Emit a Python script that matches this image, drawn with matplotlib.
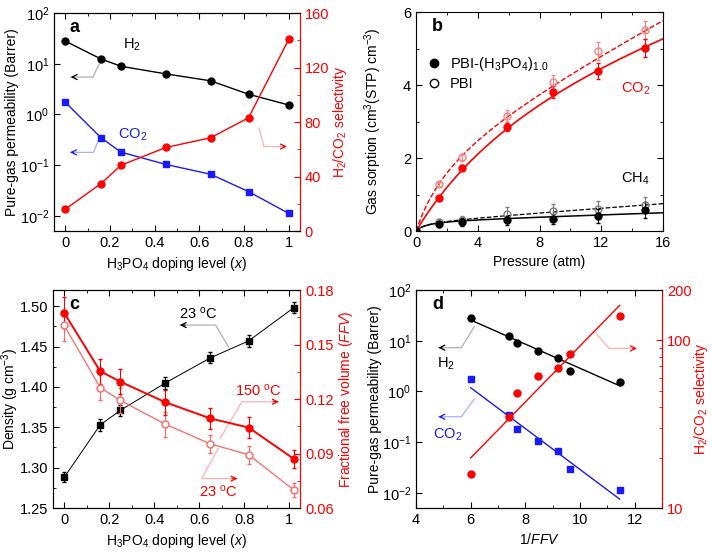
import numpy as np
import matplotlib
matplotlib.use('Agg')
from matplotlib import pyplot as plt
from matplotlib.lines import Line2D
from matplotlib.ticker import (MultipleLocator, NullLocator, NullFormatter,
                               FixedLocator, FormatStrFormatter)

plt.rcParams['font.family'] = ['Liberation Sans', 'DejaVu Sans']
plt.rcParams['mathtext.fontset'] = 'custom'
plt.rcParams['mathtext.rm'] = 'Liberation Sans'
plt.rcParams['mathtext.it'] = 'Liberation Sans:italic'
plt.rcParams['mathtext.bf'] = 'Liberation Sans:bold'
plt.rcParams['font.size'] = 10
plt.rcParams['axes.labelsize'] = 10
plt.rcParams['xtick.labelsize'] = 10.5
plt.rcParams['ytick.labelsize'] = 10.5
plt.rcParams['xtick.direction'] = 'in'
plt.rcParams['ytick.direction'] = 'in'
plt.rcParams['xtick.major.size'] = 4
plt.rcParams['ytick.major.size'] = 4
plt.rcParams['xtick.minor.size'] = 2
plt.rcParams['ytick.minor.size'] = 2

# ---- data: panel a / d (permeability vs doping level and vs 1/FFV)
doping = [0, 0.16, 0.25, 0.45, 0.65, 0.82, 1.0]
inv_ffv = [6.0, 7.4, 7.7, 8.45, 9.2, 9.65, 11.45]
h2_perm = [28, 12.4, 8.9, 6.3, 4.6, 2.5, 1.53]
co2_perm = [1.75, 0.346, 0.18, 0.103, 0.066, 0.030, 0.0111]
selectivity = [15.9, 34.8, 48.3, 61.3, 68.4, 83.1, 140.7]
# fitted lines in panel d (end points)
fit_x = [6.0, 11.45]
h2_fit = [25.6, 1.29]
co2_fit = [1.18, 0.0075]
sel_fit = [19.9, 162]

# ---- data: panel b (sorption isotherms)
pressure = [0, 1.5, 3.0, 5.9, 8.9, 11.8, 14.8]
co2_doped = [0, 0.91, 1.74, 2.85, 3.81, 4.39, 5.02]
co2_doped_err = [0, 0.05, 0.07, 0.12, 0.17, 0.22, 0.24]
co2_pbi = [0, 1.29, 2.02, 3.15, 4.08, 4.94, 5.52]
co2_pbi_err = [0, 0.06, 0.10, 0.16, 0.21, 0.25, 0.25]
ch4_doped = [0, 0.19, 0.25, 0.29, 0.34, 0.41, 0.58]
ch4_doped_err = [0, 0.07, 0.12, 0.13, 0.14, 0.18, 0.22]
ch4_pbi = [0, 0.24, 0.30, 0.47, 0.55, 0.61, 0.72]
ch4_pbi_err = [0, 0.08, 0.12, 0.18, 0.19, 0.22, 0.22]
# dual-mode sorption fit parameters:
# order: CO2 doped, CO2 PBI, CH4 doped, CH4 PBI
fit_kd = [0.099, 0.221, 0.014, 0.031]
fit_ch = [5.99, 2.583, 0.288, 0.265]
fit_b = [0.1, 0.4, 1.5, 1.5]

# ---- data: panel c (density and FFV)
doping_c = [0, 0.16, 0.25, 0.45, 0.65, 0.82, 1.02]
density = [1.288, 1.353, 1.371, 1.405, 1.436, 1.457, 1.498]
density_err = [0.006, 0.007, 0.007, 0.007, 0.007, 0.007, 0.007]
ffv_150 = [0.1674, 0.1353, 0.1295, 0.1182, 0.1093, 0.1043, 0.0871]
ffv_150_err = [0.0085, 0.007, 0.007, 0.007, 0.006, 0.006, 0.005]
ffv_23 = [0.1605, 0.1263, 0.1192, 0.1061, 0.0953, 0.0893, 0.0700]
ffv_23_err = [0.0085, 0.007, 0.007, 0.007, 0.005, 0.005, 0.004]

RED = '#ff0000'
BLUE = '#1a1aff'


def dual_mode(p, i):
    return fit_kd[i] * p + fit_ch[i] * fit_b[i] * p / (1 + fit_b[i] * p)


def bent_arrow(ax, xs, ys, line_color, head_color):
    ax.plot(xs, ys, color=line_color, lw=0.9, zorder=1)
    dx = (xs[-1] - xs[-2]) * 0.15
    ax.annotate('', xy=(xs[-1], ys[-1]), xytext=(xs[-1] - dx, ys[-1]),
                arrowprops=dict(arrowstyle='->', color=head_color, lw=0.9,
                                shrinkA=0, shrinkB=0, mutation_scale=9))


def red_twin(ax):
    tw = ax.twinx()
    tw.spines['right'].set_color(RED)
    tw.tick_params(axis='y', which='both', colors=RED, direction='in')
    tw.yaxis.label.set_color(RED)
    return tw


fig = plt.figure(figsize=(7.12, 5.54), dpi=100)

# ================= panel a
ax = fig.add_axes([0.0758, 0.583, 0.3455, 0.3935])
ax.plot(doping, h2_perm, '-o', color='black', lw=1, ms=5)
ax.plot(doping, co2_perm, '-s', color=BLUE, lw=1, ms=5)
ax.set_yscale('log')
ax.set_ylim(0.005, 100)
ax.set_xlim(-0.05, 1.05)
ax.yaxis.set_minor_locator(NullLocator())
ax.set_xticks([0, 0.2, 0.4, 0.6, 0.8, 1.0], ['0', '0.2', '0.4', '0.6', '0.8', '1'])
ax.xaxis.set_minor_locator(MultipleLocator(0.1))
ax.tick_params(top=True, which='both')
ax.set_xlabel('H$_3$PO$_4$ doping level ($\\it{x}$)')
ax.set_ylabel('Pure-gas permeability (Barrer)')
ax.yaxis.set_label_coords(-0.142, 0.5)
ax.text(0.065, 0.935, 'a', transform=ax.transAxes, fontsize=13, fontweight='bold', va='center')
ax.text(0.30, 23.7, 'H$_2$', ha='center', va='center', fontsize=10.5)
ax.text(0.30, 0.40, 'CO$_2$', color=BLUE, ha='center', va='center', fontsize=10.5)
bent_arrow(ax, [0.154, 0.124, 0.025], [10.3, 5.45, 5.45], '#b0b0b0', 'black')
bent_arrow(ax, [0.151, 0.127, 0.022], [0.326, 0.178, 0.178], '#a8b0ff', BLUE)
tw = red_twin(ax)
tw.plot(doping, selectivity, '-o', color=RED, lw=1, ms=5)
tw.set_ylim(0, 160)
tw.yaxis.set_major_locator(MultipleLocator(40))
tw.yaxis.set_minor_locator(MultipleLocator(20))
tw.set_ylabel('H$_2$/CO$_2$ selectivity')
tw.yaxis.set_label_coords(1.126, 0.5)
bent_arrow(tw, [0.867, 0.889, 0.991], [75.5, 62, 62], '#ffb0b0', RED)

# ================= panel b
ax = fig.add_axes([0.5843, 0.583, 0.347, 0.395])
pp = np.linspace(0, 16, 300)
ax.plot(pp, dual_mode(pp, 1), '--', color=RED, lw=1)
ax.plot(pp, dual_mode(pp, 0), '-', color=RED, lw=1.2)
ax.plot(pp, dual_mode(pp, 3), '--', color='black', lw=0.9)
ax.plot(pp, dual_mode(pp, 2), '-', color='black', lw=1.1)
ax.errorbar(pressure, co2_pbi, yerr=co2_pbi_err, fmt='o', mfc='none', mec='#ff8080',
            ecolor='#ff8080', ms=5, capsize=1.5, elinewidth=0.8)
ax.errorbar(pressure, co2_doped, yerr=co2_doped_err, fmt='o', color=RED,
            ms=5, capsize=1.5, elinewidth=0.8)
ax.errorbar(pressure, ch4_pbi, yerr=ch4_pbi_err, fmt='o', mfc='none', mec='#808080',
            ecolor='#808080', ms=5, capsize=1.5, elinewidth=0.8)
ax.errorbar(pressure, ch4_doped, yerr=ch4_doped_err, fmt='o', color='black',
            ms=5, capsize=1.5, elinewidth=0.8)
ax.set_xlim(0, 16)
ax.set_ylim(0, 6)
ax.xaxis.set_major_locator(MultipleLocator(4))
ax.xaxis.set_minor_locator(MultipleLocator(2))
ax.yaxis.set_major_locator(MultipleLocator(2))
ax.yaxis.set_minor_locator(MultipleLocator(1))
ax.tick_params(top=True, right=True, which='both')
ax.set_xlabel('Pressure (atm)')
ax.set_ylabel('Gas sorption (cm$^3$(STP) cm$^{-3}$)')
ax.yaxis.set_label_coords(-0.130, 0.5)
ax.text(0.065, 0.935, 'b', transform=ax.transAxes, fontsize=13, fontweight='bold', va='center')
ax.text(14.2, 3.9, 'CO$_2$', color=RED, ha='center', va='center', fontsize=10.5)
ax.text(14.2, 1.44, 'CH$_4$', ha='center', va='center', fontsize=10.5)
handles = [Line2D([], [], ls='none', marker='o', color='black', ms=6),
           Line2D([], [], ls='none', marker='o', mfc='white', mec='black', ms=6)]
ax.legend(handles, ['PBI-(H$_3$PO$_4$)$_{1.0}$', 'PBI'], loc='upper left',
          bbox_to_anchor=(0.0, 0.85), frameon=False, handlelength=1.0, fontsize=10.5,
          handletextpad=0.6, labelspacing=0.25, borderaxespad=0.3)

# ================= panel c
ax = fig.add_axes([0.0744, 0.083, 0.3475, 0.3935])
ax.errorbar(doping_c, density, yerr=density_err, fmt='-s', color='black', ms=5,
            lw=0.7, capsize=1.5, elinewidth=0.8)
ax.set_xlim(-0.05, 1.05)
ax.set_ylim(1.25, 1.52)
ax.set_xticks([0, 0.2, 0.4, 0.6, 0.8, 1.0], ['0', '0.2', '0.4', '0.6', '0.8', '1'])
ax.xaxis.set_minor_locator(MultipleLocator(0.1))
ax.yaxis.set_major_locator(MultipleLocator(0.05))
ax.yaxis.set_minor_locator(MultipleLocator(0.025))
ax.yaxis.set_major_formatter(FormatStrFormatter('%.2f'))
ax.tick_params(top=True, which='both')
ax.set_xlabel('H$_3$PO$_4$ doping level ($\\it{x}$)')
ax.set_ylabel('Density (g cm$^{-3}$)')
ax.yaxis.set_label_coords(-0.128, 0.5)
ax.text(0.065, 0.935, 'c', transform=ax.transAxes, fontsize=13, fontweight='bold', va='center')
ax.text(0.596, 1.491, '23 $^{\\rm o}$C', ha='center', va='center', fontsize=10.5)
bent_arrow(ax, [0.730, 0.673, 0.514], [1.4498, 1.4766, 1.4766], '#b0b0b0', 'black')
tw = red_twin(ax)
tw.errorbar(doping_c, ffv_23, yerr=ffv_23_err, fmt='-o', color='#ff6666', mfc='white',
            mec='#ff6666', ms=5, lw=0.9, capsize=1.5, elinewidth=0.8)
tw.errorbar(doping_c, ffv_150, yerr=ffv_150_err, fmt='-o', color=RED, ms=5,
            lw=1.4, capsize=1.5, elinewidth=0.8)
tw.set_ylim(0.06, 0.18)
tw.yaxis.set_major_locator(MultipleLocator(0.03))
tw.yaxis.set_minor_locator(MultipleLocator(0.015))
tw.yaxis.set_major_formatter(FormatStrFormatter('%.2f'))
tw.set_ylabel('Fractional free volume ($\\it{FFV}$)')
tw.yaxis.set_label_coords(1.147, 0.5)
tw.text(0.864, 0.1248, '150 $^{\\rm o}$C', color=RED, ha='center', va='center', fontsize=10.5)
tw.text(0.685, 0.0689, '23 $^{\\rm o}$C', color=RED, ha='center', va='center', fontsize=10.5)
bent_arrow(tw, [0.693, 0.790, 0.954], [0.0983, 0.1185, 0.1185], '#ffb0b0', RED)
bent_arrow(tw, [0.685, 0.611, 0.770], [0.0928, 0.0762, 0.0762], '#ffb0b0', RED)

# ================= panel d
ax = fig.add_axes([0.5843, 0.083, 0.3455, 0.3935])
ax.plot(inv_ffv, h2_perm, 'o', color='black', ms=5)
ax.plot(inv_ffv, co2_perm, 's', color=BLUE, ms=5)
ax.plot(fit_x, h2_fit, '-', color='black', lw=1)
ax.plot(fit_x, co2_fit, '-', color=BLUE, lw=1)
ax.set_yscale('log')
ax.set_ylim(0.005, 100)
ax.set_xlim(4, 13)
ax.yaxis.set_minor_locator(NullLocator())
ax.xaxis.set_major_locator(MultipleLocator(2))
ax.xaxis.set_minor_locator(MultipleLocator(1))
ax.tick_params(top=True, which='both')
ax.set_xlabel('$\\it{1/FFV}$')
ax.set_ylabel('Pure-gas permeability (Barrer)')
ax.yaxis.set_label_coords(-0.138, 0.5)
ax.text(0.065, 0.935, 'd', transform=ax.transAxes, fontsize=13, fontweight='bold', va='center')
ax.text(5.09, 3.46, 'H$_2$', ha='center', va='center', fontsize=10.5)
ax.text(5.15, 0.138, 'CO$_2$', color=BLUE, ha='center', va='center', fontsize=10.5)
bent_arrow(ax, [6.13, 5.66, 4.82], [18.9, 7.28, 7.28], '#b0b0b0', 'black')
bent_arrow(ax, [6.13, 5.66, 4.82], [0.706, 0.316, 0.316], '#a8b0ff', BLUE)
tw = red_twin(ax)
tw.plot(inv_ffv, selectivity, 'o', color=RED, ms=5)
tw.plot(fit_x, sel_fit, '-', color=RED, lw=1)
tw.set_yscale('log')
tw.set_ylim(10, 200)
tw.yaxis.set_major_locator(FixedLocator([10, 100, 200]))
tw.set_yticklabels(['10', '100', '200'])
tw.yaxis.set_minor_locator(FixedLocator([20, 30, 40, 50, 60, 70, 80, 90]))
tw.yaxis.set_minor_formatter(NullFormatter())
tw.set_ylabel('H$_2$/CO$_2$ selectivity')
tw.yaxis.set_label_coords(1.122, 0.5)
bent_arrow(tw, [10.54, 11.06, 12.08], [112.6, 89.6, 89.6], '#ffb0b0', RED)

fig.savefig('out.png', dpi=100)
